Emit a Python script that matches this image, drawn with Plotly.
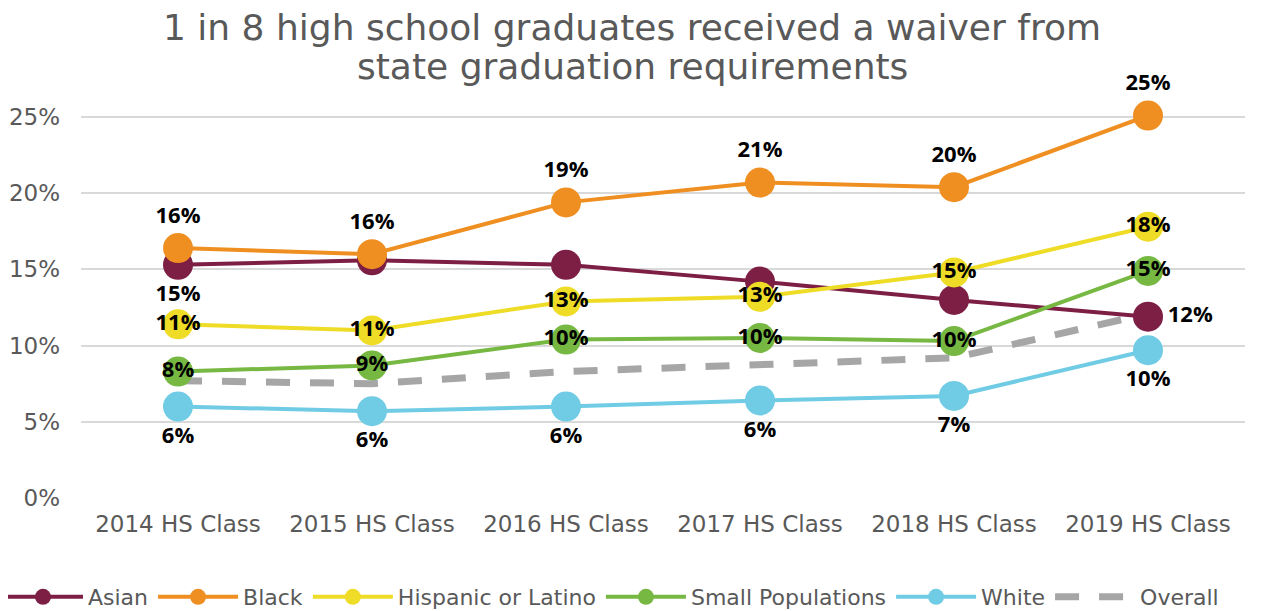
import plotly.graph_objects as go

classes = ["2014 HS Class", "2015 HS Class", "2016 HS Class",
           "2017 HS Class", "2018 HS Class", "2019 HS Class"]

asian = [15.3, 15.6, 15.3, 14.2, 13.0, 11.9]
black = [16.4, 16.0, 19.4, 20.7, 20.4, 25.1]
hispanic = [11.4, 11.0, 12.9, 13.2, 14.8, 17.8]
small_pops = [8.3, 8.7, 10.4, 10.5, 10.3, 14.9]
white = [6.0, 5.7, 6.0, 6.4, 6.7, 9.7]
overall = [7.7, 7.5, 8.3, 8.8, 9.2, 12.1]

y_ticks = [0, 5, 10, 15, 20, 25]

title_lines = ["1 in 8 high school graduates received a waiver from",
               "state graduation requirements"]

GRAY_TXT = "#595959"
FONT = "DejaVu Sans"
LABEL_FONT = "Open Sans"

# the page puts the plot 8px in from the top-left, so size it to fit the window
W, H = 1264, 603
L, R, T, B = 73, 27, 106, 113
PLOT_W, PLOT_H = W - L - R, H - T - B


def labels(values, show):
    return [f"{round(v)}%" if s else "" for v, s in zip(values, show)]


series = [
    ("Asian", asian, "#7D1E45", [True, False, False, False, False, True],
     ["bottom center"] * 5 + ["middle right"]),
    ("Black", black, "#EF8F22", [True] * 6, ["top center"] * 6),
    ("Hispanic or Latino", hispanic, "#EEDC27", [True] * 6, ["middle center"] * 6),
    ("Small Populations", small_pops, "#77B843", [True] * 6, ["middle center"] * 6),
    ("White", white, "#70CCE4", [True] * 6, ["bottom center"] * 6),
]

fig = go.Figure()

# overall dashed line sits underneath the coloured series
fig.add_trace(go.Scatter(
    x=classes, y=overall, name="Overall", mode="lines",
    line=dict(color="#A6A6A6", width=7, dash="24px,20px"),
    cliponaxis=False, legendrank=6,
))

for rank, (name, vals, color, show, pos) in enumerate(series, start=1):
    fig.add_trace(go.Scatter(
        x=classes, y=vals, name=name,
        mode="lines+markers+text",
        line=dict(color=color, width=4),
        marker=dict(color=color, size=30),
        text=labels(vals, show),
        textposition=pos,
        textfont=dict(family=LABEL_FONT, size=22, color="black", weight="bold"),
        cliponaxis=False, legendrank=rank,
    ))

# two-line title, drawn as separate lines to keep the tight line spacing
for line, ypix in zip(title_lines, [19, 58]):
    fig.add_annotation(
        text=line, xref="paper", x=(624 - L) / PLOT_W, xanchor="center",
        yref="paper", y=1 + (T - ypix) / PLOT_H, yanchor="middle",
        showarrow=False, font=dict(family=FONT, size=36, color=GRAY_TXT),
    )

fig.update_layout(
    width=W, height=H,
    paper_bgcolor="white", plot_bgcolor="white",
    margin=dict(l=L, r=R, t=T, b=B, autoexpand=False),
    font=dict(family=FONT, color=GRAY_TXT),
    showlegend=True,
    legend=dict(
        orientation="h", x=(-10 - L) / PLOT_W, xanchor="left",
        y=(H - B - 589) / PLOT_H, yanchor="middle",
        font=dict(size=22, color=GRAY_TXT), itemwidth=80,
        traceorder="normal",
    ),
    xaxis=dict(
        type="category", range=[-0.5, 5.5], showgrid=False, showline=False,
        tickfont=dict(size=23, color=GRAY_TXT), ticks="", ticklabelstandoff=10,
    ),
    yaxis=dict(
        range=[0, 25.2], tickvals=y_ticks, ticktext=[f"{t}%" for t in y_ticks],
        showgrid=True, gridcolor="#D9D9D9", gridwidth=2,
        zeroline=False, showline=False,
        tickfont=dict(size=23, color=GRAY_TXT), ticks="", ticklabelstandoff=20,
    ),
)

fig.write_html("out.html")
